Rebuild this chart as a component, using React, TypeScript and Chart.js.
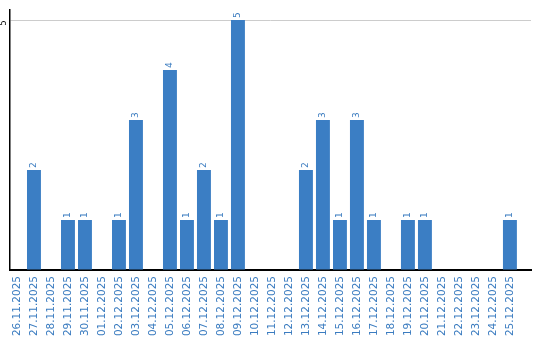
import React, { useEffect, useRef } from "react";
import { Chart, registerables } from "chart.js";

Chart.register(...registerables);

const dates: string[] = [
  "26.11.2025", "27.11.2025", "28.11.2025", "29.11.2025", "30.11.2025",
  "01.12.2025", "02.12.2025", "03.12.2025", "04.12.2025", "05.12.2025",
  "06.12.2025", "07.12.2025", "08.12.2025", "09.12.2025", "10.12.2025",
  "11.12.2025", "12.12.2025", "13.12.2025", "14.12.2025", "15.12.2025",
  "16.12.2025", "17.12.2025", "18.12.2025", "19.12.2025", "20.12.2025",
  "21.12.2025", "22.12.2025", "23.12.2025", "24.12.2025", "25.12.2025",
];

const counts: number[] = [
  0, 2, 0, 1, 1,
  0, 1, 3, 0, 4,
  1, 2, 1, 5, 0,
  0, 0, 2, 3, 1,
  3, 1, 0, 1, 1,
  0, 0, 0, 0, 1,
];

const yTickValues: number[] = [5];

const BAR_COLOR = "#3b7ec4";
const TEXT_COLOR = "#3b7cc0";

const valueLabelPlugin = {
  id: "valueLabels",
  afterDatasetsDraw(chart: any) {
    const ctx = chart.ctx;
    const meta = chart.getDatasetMeta(0);
    ctx.save();
    ctx.fillStyle = TEXT_COLOR;
    ctx.font = "9px 'DejaVu Sans'";
    ctx.textAlign = "left";
    ctx.textBaseline = "middle";
    meta.data.forEach((el: any, i: number) => {
      const v = counts[i];
      if (!v) return;
      ctx.save();
      ctx.translate(el.x, el.y - 2);
      ctx.rotate(-Math.PI / 2);
      ctx.fillText(String(v), 0, 0);
      ctx.restore();
    });
    ctx.restore();
  },
};

const yLabelPlugin = {
  id: "yLabels",
  afterDraw(chart: any) {
    const ctx = chart.ctx;
    const ys = chart.scales.y;
    ctx.save();
    ctx.fillStyle = "#000";
    ctx.font = "8px 'DejaVu Sans'";
    ctx.textAlign = "center";
    ctx.textBaseline = "middle";
    yTickValues.forEach((v) => {
      ctx.save();
      ctx.translate(4, ys.getPixelForValue(v) + 3);
      ctx.rotate(-Math.PI / 2);
      ctx.fillText(String(v), 0, 0);
      ctx.restore();
    });
    ctx.restore();
  },
};

export default function App() {
  const ref = useRef<HTMLCanvasElement | null>(null);

  useEffect(() => {
    document.body.style.margin = "0";
    if (!ref.current) return;
    const chart = new Chart(ref.current, {
      type: "bar",
      data: {
        datasets: [
          {
            data: counts.map((v, i) => ({ x: i, y: v })),
            backgroundColor: BAR_COLOR,
            borderWidth: 0,
            barPercentage: 0.82,
            categoryPercentage: 1,
          },
        ],
      },
      options: {
        animation: false,
        responsive: false,
        maintainAspectRatio: false,
        layout: { padding: { left: 10, top: 10, right: 9, bottom: 0 } },
        plugins: {
          legend: { display: false },
          tooltip: { enabled: false },
        },
        scales: {
          x: {
            type: "linear",
            offset: false,
            min: -0.41,
            max: 30.24,
            grid: { display: false, drawTicks: false, offset: false },
            border: { display: true, color: "#000", width: 2 },
            afterBuildTicks: (scale: any) => {
              scale.ticks = dates.map((_, i) => ({ value: i }));
            },
            afterFit: (scale: any) => {
              scale.height = 70;
              scale.paddingLeft = 0;
              scale.paddingRight = 0;
            },
            ticks: {
              autoSkip: false,
              minRotation: 90,
              maxRotation: 90,
              padding: 6,
              color: TEXT_COLOR,
              font: { family: "'DejaVu Sans'", size: 10.5 },
              callback: (value: any) => {
                const n = Math.round(Number(value));
                return dates[n] ?? "";
              },
            },
          },
          y: {
            min: 0,
            max: 5.2,
            afterBuildTicks: (scale: any) => {
              scale.ticks = [0, ...yTickValues].map((v) => ({ value: v }));
            },
            afterFit: (scale: any) => {
              scale.width = 0;
            },
            grid: {
              drawTicks: false,
              color: (c: any) =>
                c.tick && yTickValues.includes(c.tick.value) ? "#cccccc" : "rgba(0,0,0,0)",
              lineWidth: 1,
            },
            border: { display: true, color: "#000", width: 1.5 },
            ticks: {
              display: false,
            },
          },
        },
      },
      plugins: [valueLabelPlugin, yLabelPlugin],
    });
    return () => chart.destroy();
  }, []);

  return (
    <div style={{ width: 540, height: 340, position: "relative" }}>
      <canvas ref={ref} width={540} height={340} style={{ width: 540, height: 340 }} />
    </div>
  );
}
